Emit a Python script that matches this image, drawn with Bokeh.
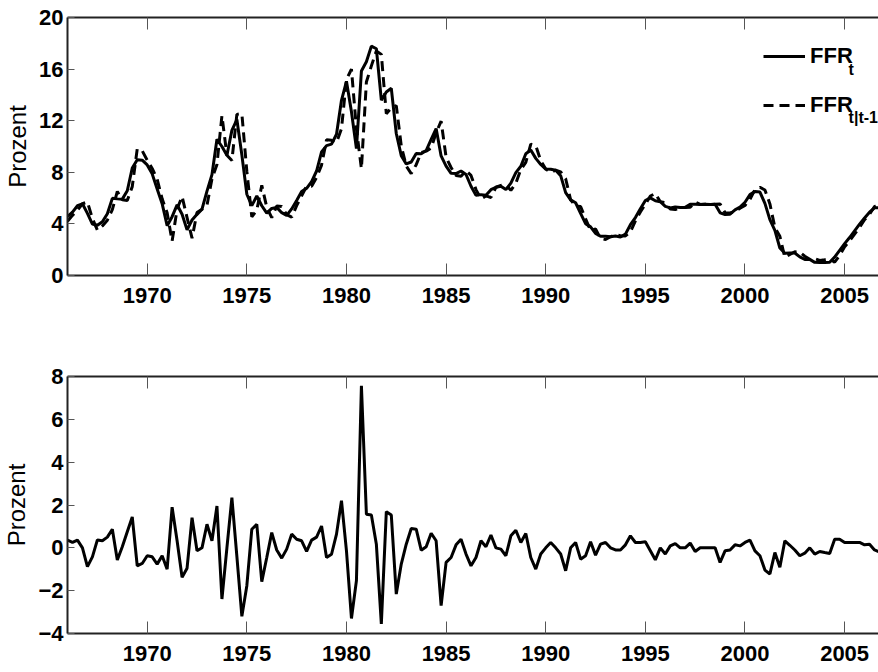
from bokeh.plotting import figure
from bokeh.layouts import column
from bokeh.models import Range1d, LinearAxis, FixedTicker, Legend, LegendItem, Label
from bokeh.embed import file_html
from bokeh.resources import INLINE

# ---------------- data (quarterly, 1966Q1 - 2006Q4) ----------------
start_year = 1966

ffr = [4.56, 4.91, 5.41, 5.56,
       4.82, 3.99, 3.89, 4.17,
       4.79, 5.98, 5.94, 5.92,
       6.57, 8.33, 8.98, 8.94,
       8.57, 7.88, 6.70, 5.57,
       3.86, 4.56, 5.48, 4.75,
       3.54, 4.30, 4.74, 5.14,
       6.54, 7.82, 10.56, 10.00,
       9.32, 11.25, 12.09, 9.35,
       6.30, 5.42, 6.16, 5.41,
       4.83, 5.20, 5.28, 4.87,
       4.66, 5.16, 5.82, 6.51,
       6.76, 7.28, 8.10, 9.58,
       10.07, 10.18, 10.95, 13.58,
       15.05, 12.69, 9.84, 15.85,
       16.57, 17.78, 17.58, 13.59,
       14.23, 14.51, 11.01, 9.29,
       8.65, 8.80, 9.46, 9.43,
       9.69, 10.56, 11.39, 9.27,
       8.48, 7.92, 7.90, 8.10,
       7.83, 6.92, 6.21, 6.27,
       6.22, 6.65, 6.84, 6.92,
       6.66, 7.16, 7.98, 8.47,
       9.44, 9.73, 9.08, 8.61,
       8.25, 8.24, 8.16, 7.74,
       6.43, 5.86, 5.64, 4.82,
       4.02, 3.77, 3.26, 3.04,
       3.04, 3.00, 3.06, 2.99,
       3.21, 3.94, 4.49, 5.17,
       5.81, 6.02, 5.80, 5.72,
       5.36, 5.24, 5.31, 5.28,
       5.28, 5.52, 5.53, 5.51,
       5.52, 5.50, 5.53, 4.86,
       4.73, 4.75, 5.09, 5.31,
       5.68, 6.27, 6.52, 6.47,
       5.59, 4.33, 3.50, 2.13,
       1.73, 1.75, 1.74, 1.44,
       1.25, 1.25, 1.02, 1.00,
       1.00, 1.03, 1.43, 1.95,
       2.47, 2.94, 3.46, 3.98,
       4.46, 4.91, 5.25, 5.25]

ffr_forecast = [4.20, 4.66, 5.05, 5.56,
                5.70, 4.41, 3.52, 3.84,
                4.29, 5.11, 6.51, 5.87,
                5.82, 6.89, 9.82, 9.67,
                8.94, 8.30, 7.46, 5.94,
                4.86, 2.66, 5.15, 6.13,
                4.49, 2.89, 4.88, 5.14,
                5.44, 7.49, 8.61, 12.39,
                9.32, 8.91, 12.49, 12.55,
                8.07, 4.55, 5.06, 6.99,
                5.28, 4.49, 5.38, 5.35,
                4.72, 4.52, 5.42, 6.18,
                6.93, 6.92, 7.60, 8.56,
                10.52, 10.48, 10.31, 11.38,
                15.19, 15.99, 11.37, 8.28,
                15.00, 16.25, 17.41, 17.14,
                12.54, 12.98, 13.17, 10.05,
                8.48, 7.90, 8.59, 9.54,
                9.64, 9.88, 11.06, 11.97,
                9.16, 8.37, 7.76, 7.70,
                8.12, 7.76, 6.66, 5.94,
                6.17, 6.05, 6.84, 6.98,
                7.03, 6.60, 7.16, 8.22,
                8.77, 10.18, 10.07, 8.90,
                8.25, 7.99, 8.16, 8.03,
                7.50, 5.86, 5.39, 5.35,
                4.39, 3.49, 3.60, 2.87,
                2.79, 3.00, 3.16, 3.09,
                3.07, 3.38, 4.24, 4.92,
                5.53, 6.16, 6.36, 5.72,
                5.65, 5.15, 5.11, 5.28,
                5.28, 5.30, 5.70, 5.51,
                5.52, 5.50, 5.53, 5.54,
                4.87, 4.85, 4.95, 5.22,
                5.43, 5.91, 6.66, 6.84,
                6.63, 5.55, 3.72, 3.04,
                1.40, 1.63, 1.84, 1.81,
                1.50, 1.25, 1.31, 1.17,
                1.22, 1.29, 1.03, 1.55,
                2.22, 2.69, 3.21, 3.73,
                4.32, 4.74, 5.35, 5.45]

forecast_error = [0.36, 0.25, 0.36, 0.00,
                  -0.88, -0.42, 0.37, 0.33,
                  0.50, 0.87, -0.57, 0.05,
                  0.75, 1.44, -0.84, -0.73,
                  -0.37, -0.42, -0.76, -0.37,
                  -1.00, 1.90, 0.33, -1.38,
                  -0.95, 1.41, -0.14, 0.00,
                  1.10, 0.33, 1.95, -2.39,
                  0.00, 2.34, -0.40, -3.20,
                  -1.77, 0.87, 1.10, -1.58,
                  -0.45, 0.71, -0.10, -0.48,
                  -0.06, 0.64, 0.40, 0.33,
                  -0.17, 0.36, 0.50, 1.02,
                  -0.45, -0.30, 0.64, 2.20,
                  -0.14, -3.30, -1.53, 7.57,
                  1.57, 1.53, 0.17, -3.55,
                  1.69, 1.53, -2.16, -0.76,
                  0.17, 0.90, 0.87, -0.11,
                  0.05, 0.68, 0.33, -2.70,
                  -0.68, -0.45, 0.14, 0.40,
                  -0.29, -0.84, -0.45, 0.33,
                  0.05, 0.60, 0.00, -0.06,
                  -0.37, 0.56, 0.82, 0.25,
                  0.67, -0.45, -0.99, -0.29,
                  0.00, 0.25, 0.00, -0.29,
                  -1.07, 0.00, 0.25, -0.53,
                  -0.37, 0.28, -0.34, 0.17,
                  0.25, 0.00, -0.10, -0.10,
                  0.14, 0.56, 0.25, 0.25,
                  0.28, -0.14, -0.56, 0.00,
                  -0.29, 0.09, 0.20, 0.00,
                  0.00, 0.22, -0.17, 0.00,
                  0.00, 0.00, 0.00, -0.68,
                  -0.14, -0.10, 0.14, 0.09,
                  0.25, 0.36, -0.14, -0.37,
                  -1.04, -1.22, -0.22, -0.91,
                  0.33, 0.12, -0.10, -0.37,
                  -0.25, 0.00, -0.29, -0.17,
                  -0.22, -0.26, 0.40, 0.40,
                  0.25, 0.25, 0.25, 0.25,
                  0.14, 0.17, -0.10, -0.20]

year_ticks = [1970, 1975, 1980, 1985, 1990, 1995, 2000, 2005]
top_yticks = [0, 4, 8, 12, 16, 20]
bottom_yticks = [-4, -2, 0, 2, 4, 6, 8]
y_label = "Prozent"
legend_labels = ["FFR", "FFR"]
legend_subscripts = ["t", "t|t-1"]

t = [start_year + i / 4 for i in range(len(ffr))]

# ---------------- styling ----------------
FONT = "Liberation Sans"
TICK_SIZE = "22px"
X_END = 2006.7


def style_axes(p, yticks):
    p.outline_line_color = None
    p.grid.visible = False
    p.background_fill_color = "white"
    p.border_fill_color = "white"

    xa = p.xaxis[0]
    xa.ticker = FixedTicker(ticks=year_ticks)
    xa.major_tick_in = 12
    xa.major_tick_out = 0
    xa.minor_tick_in = 0
    xa.minor_tick_out = 0
    xa.major_tick_line_color = "#555555"
    xa.axis_line_color = "#222222"
    xa.axis_line_width = 2
    xa.major_label_text_font = FONT
    xa.major_label_text_font_style = "bold"
    xa.major_label_text_font_size = TICK_SIZE
    xa.major_label_text_color = "black"
    xa.major_label_standoff = 12

    ya = p.yaxis[0]
    ya.ticker = FixedTicker(ticks=yticks)
    ya.major_tick_in = 7
    ya.major_tick_out = 0
    ya.minor_tick_in = 0
    ya.minor_tick_out = 0
    ya.major_tick_line_color = "#555555"
    ya.axis_line_color = "#222222"
    ya.axis_line_width = 2
    ya.major_label_text_font = FONT
    ya.major_label_text_font_style = "bold"
    ya.major_label_text_font_size = TICK_SIZE
    ya.major_label_text_color = "black"
    ya.major_label_standoff = 4
    ya.axis_label = y_label
    ya.axis_label_text_font = FONT
    ya.axis_label_text_font_style = "normal"
    ya.axis_label_text_font_size = "24px"
    ya.axis_label_text_color = "black"
    ya.axis_label_standoff = 5

    # top frame edge with inward ticks, no labels drawn
    top = LinearAxis(ticker=FixedTicker(ticks=year_ticks),
                     major_label_text_font_size="1px",
                     major_label_text_color=None,
                     major_label_standoff=0,
                     major_tick_in=12, major_tick_out=0,
                     minor_tick_in=0, minor_tick_out=0,
                     major_tick_line_color="#555555",
                     axis_line_color="#222222", axis_line_width=2)
    p.add_layout(top, "above")


# ---------------- top panel ----------------
p1 = figure(width=878, height=320, x_range=Range1d(start_year, X_END), y_range=Range1d(0, 20),
            output_backend="svg", toolbar_location=None,
            min_border_left=64, min_border_right=0, min_border_top=17, min_border_bottom=45)
style_axes(p1, top_yticks)

r_solid = p1.line(t, ffr, line_color="black", line_width=3)
r_dash = p1.line(t, ffr_forecast, line_color="black", line_width=3, line_dash="10 6")

legend = Legend(items=[LegendItem(label=legend_labels[0], renderers=[r_solid]),
                       LegendItem(label=legend_labels[1], renderers=[r_dash])],
                location=(696, 156), orientation="vertical",
                padding=0, margin=0, spacing=21,
                glyph_width=42, glyph_height=28, label_height=28, label_standoff=5,
                border_line_color=None, background_fill_alpha=0,
                label_text_font=FONT, label_text_font_style="bold",
                label_text_font_size=TICK_SIZE, label_text_color="black")
p1.add_layout(legend)

p1.add_layout(Label(x=2005.2, y=16.6, text=legend_subscripts[0], text_baseline="top",
                    text_font=FONT, text_font_style="bold", text_font_size="16px",
                    text_color="black"))
p1.add_layout(Label(x=2005.2, y=12.9, text=legend_subscripts[1], text_baseline="top",
                    text_font=FONT, text_font_style="bold", text_font_size="16px",
                    text_color="black"))

# ---------------- bottom panel ----------------
p2 = figure(width=878, height=352, x_range=Range1d(start_year, X_END), y_range=Range1d(-4, 8),
            output_backend="svg", toolbar_location=None,
            min_border_left=64, min_border_right=0, min_border_top=56, min_border_bottom=39)
style_axes(p2, bottom_yticks)
p2.line(t, forecast_error, line_color="black", line_width=3)

layout = column(p1, p2, spacing=0)
open("out.html", "w").write(file_html(layout, INLINE))
